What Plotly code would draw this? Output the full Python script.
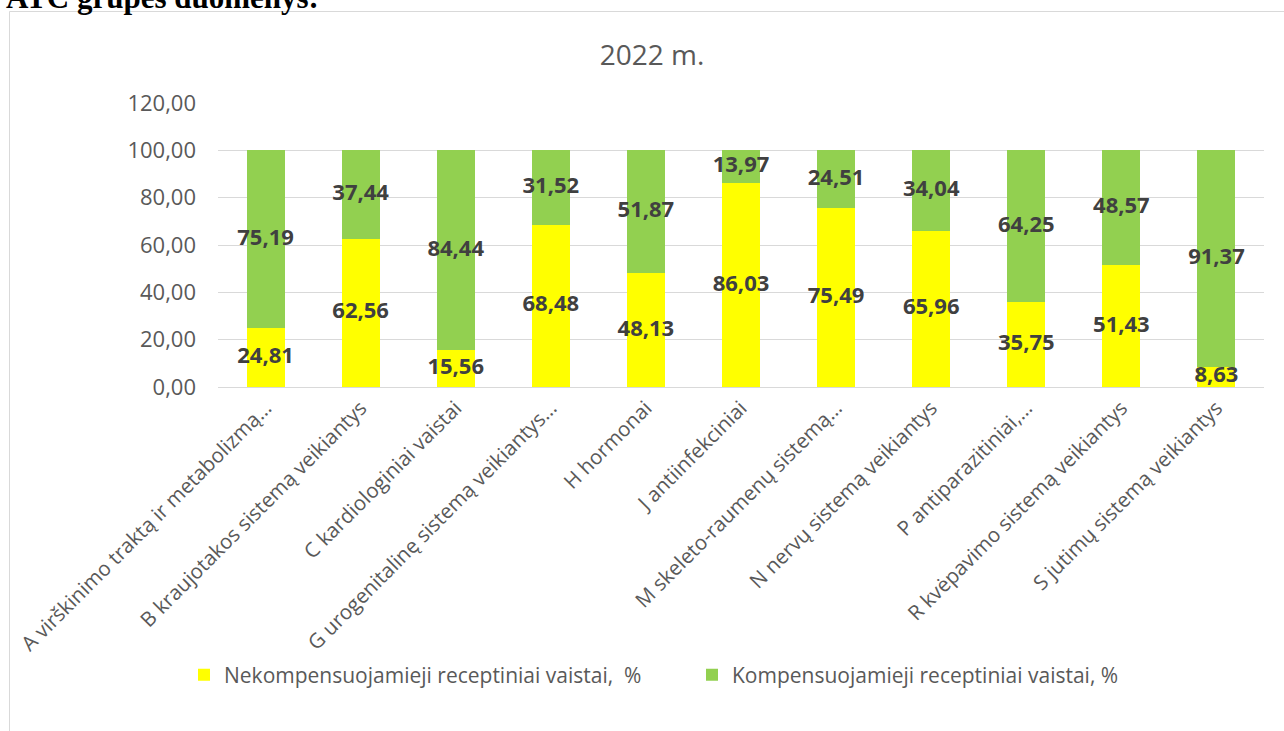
import plotly.graph_objects as go

categories = [
    "A virškinimo traktą ir metabolizmą…",
    "B kraujotakos sistemą veikiantys",
    "C kardiologiniai vaistai",
    "G urogenitalinę sistemą veikiantys…",
    "H hormonai",
    "J antiinfekciniai",
    "M skeleto-raumenų sistemą…",
    "N nervų sistemą veikiantys",
    "P antiparazitiniai,…",
    "R kvėpavimo sistemą veikiantys",
    "S jutimų sistemą veikiantys",
]
nekompensuojamieji = [24.81, 62.56, 15.56, 68.48, 48.13, 86.03, 75.49, 65.96, 35.75, 51.43, 8.63]
kompensuojamieji = [75.19, 37.44, 84.44, 31.52, 51.87, 13.97, 24.51, 34.04, 64.25, 48.57, 91.37]
series_names = ["Nekompensuojamieji receptiniai vaistai,  %", "Kompensuojamieji receptiniai vaistai, %"]
y_ticks = [0, 20, 40, 60, 80, 100, 120]
title_text = "2022 m."
header_text = "ATC grupės duomenys:"

YELLOW = "#FFFF00"
GREEN = "#92D050"
GRAY = "#595959"
LABEL = "#404040"

def fmt(v):
    return f"{v:.2f}".replace(".", ",")

W, H = 1284, 731
L, R, T, B = 218, 20, 103, 344
pw, ph = W - L - R, H - T - B

def px_x(x):
    return (x - L) / pw

def px_y(y):
    return (H - B - y) / ph

fig = go.Figure()
fig.add_trace(go.Bar(x=categories, y=nekompensuojamieji, name=series_names[0],
                     marker=dict(color=YELLOW, line=dict(width=0)), width=0.4))
fig.add_trace(go.Bar(x=categories, y=kompensuojamieji, name=series_names[1],
                     marker=dict(color=GREEN, line=dict(width=0)), width=0.4))

# data labels centred in each segment
y_mid_1 = [v / 2 for v in nekompensuojamieji]
y_mid_2 = [a + b / 2 for a, b in zip(nekompensuojamieji, kompensuojamieji)]
lab_font = dict(family="Open Sans", size=22, color=LABEL, weight="bold")
fig.add_trace(go.Scatter(x=categories, y=y_mid_1, mode="text",
                         text=[fmt(v) for v in nekompensuojamieji],
                         textfont=lab_font, showlegend=False, hoverinfo="skip", cliponaxis=False))
fig.add_trace(go.Scatter(x=categories, y=y_mid_2, mode="text",
                         text=[fmt(v) for v in kompensuojamieji],
                         textfont=lab_font, showlegend=False, hoverinfo="skip", cliponaxis=False))

fig.update_layout(
    width=W, height=H, autosize=False,
    margin=dict(l=L, r=R, t=T, b=B, pad=0),
    barmode="stack",
    bargap=0.6,
    plot_bgcolor="white", paper_bgcolor="white",
    separators=", ",
    font=dict(family="Open Sans", color=GRAY),
    title=dict(text=title_text, x=652 / W, xref="container", xanchor="center",
               y=1 - 55 / H, yref="container", yanchor="middle",
               font=dict(family="Open Sans", size=28, color=GRAY)),
    legend=dict(orientation="h", x=px_x(184), xanchor="left", y=px_y(675), yanchor="middle",
                font=dict(family="Open Sans", size=21, color=GRAY),
                itemwidth=30, entrywidth=463, entrywidthmode="pixels",
                traceorder="normal", bgcolor="rgba(0,0,0,0)"),
    showlegend=True,
)
fig.update_yaxes(range=[0, 120], tickvals=y_ticks, tickformat=".2f",
                 showgrid=True, gridcolor="#D9D9D9", gridwidth=1,
                 zeroline=False, showline=False, ticks="",
                 tickfont=dict(family="Open Sans", size=22, color=GRAY),
                 ticklabelstandoff=21)
fig.update_xaxes(tickangle=-45, showgrid=False, showline=True, linecolor="#D9D9D9", linewidth=1,
                 ticks="", tickfont=dict(family="Open Sans", size=20.5, color=GRAY),
                 range=[-0.5, len(categories) - 0.5])

# chart area border
fig.add_shape(type="rect", xref="paper", yref="paper",
              x0=px_x(9.5), x1=px_x(1290), y0=px_y(745), y1=px_y(11.5),
              line=dict(color="#D9D9D9", width=1), fillcolor="rgba(0,0,0,0)", layer="below")

# document heading cut off at top
fig.add_annotation(text="<b>" + header_text + "</b>", xref="paper", yref="paper",
                   x=px_x(4), xanchor="left", y=px_y(-2), yanchor="middle",
                   showarrow=False, font=dict(family="Liberation Serif", size=31, color="black"))

fig.write_html("out.html", config={"displayModeBar": False},
               post_script="document.body.style.margin='0';document.body.style.overflow='hidden';")
